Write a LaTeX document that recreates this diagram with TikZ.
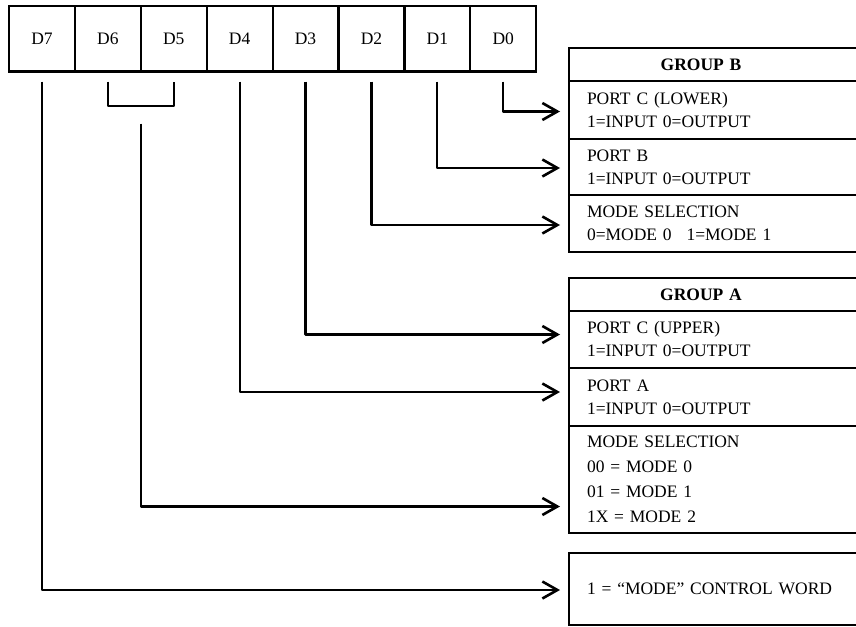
\documentclass[tikz,border=0pt]{standalone}
\usepackage{fontspec}
\setmainfont{Liberation Serif}
\usetikzlibrary{arrows.meta, positioning, calc}

\tikzset{
  bit/.style={rectangle, draw, minimum width=65.9pt, minimum height=65.5pt,
    inner sep=0pt, outer sep=0pt, line width=2.2pt, font=\fontsize{17.5pt}{23pt}\selectfont},
  cell/.style={rectangle, draw, text width=264pt, inner xsep=18pt, inner ysep=0pt,
    outer sep=0pt, align=left, line width=2.2pt, font=\fontsize{17.5pt}{23pt}\selectfont},
  hdr/.style={cell, minimum height=33pt, font=\fontsize{17.5pt}{23pt}\selectfont\bfseries},
  conn/.style={line width=2.2pt, line join=round, shorten <=10pt, shorten >=9pt,
    -{Straight Barb[length=15pt, width=17pt, line width=2.6pt]}},
  line/.style={line width=2.2pt, line join=round}
}

\begin{document}
\begin{tikzpicture}[x=1pt, y=-1pt, node distance=0pt]
  \useasboundingbox (0,0) rectangle (856,626);
  \clip (0,0) rectangle (856,626);

  % Control register
  \node[bit, anchor=north west] (d7) at (9,6) {D7};
  \node[bit, right=of d7] (d6) {D6};
  \node[bit, right=of d6] (d5) {D5};
  \node[bit, right=of d5] (d4) {D4};
  \node[bit, right=of d4] (d3) {D3};
  \node[bit, right=of d3] (d2) {D2};
  \node[bit, right=of d2] (d1) {D1};
  \node[bit, right=of d1] (d0) {D0};

  % Group B
  \node[hdr, anchor=north west] (grpb) at (569,48) {\makebox[228pt]{GROUP B}};
  \node[cell, minimum height=58pt, below=of grpb] (pcl) {PORT C (LOWER)\\1=INPUT 0=OUTPUT};
  \node[cell, minimum height=56pt, below=of pcl] (pb) {PORT B\\1=INPUT 0=OUTPUT};
  \node[cell, minimum height=57pt, below=of pb] (msb) {MODE SELECTION\\0=MODE 0\hspace{9pt} 1=MODE 1};

  % Group A
  \node[hdr, anchor=north west] (grpa) at (569,278) {\makebox[228pt]{GROUP A}};
  \node[cell, minimum height=57pt, below=of grpa] (pcu) {PORT C (UPPER)\\1=INPUT 0=OUTPUT};
  \node[cell, minimum height=58pt, below=of pcu] (pa) {PORT A\\1=INPUT 0=OUTPUT};
  \node[cell, minimum height=107pt, below=of pa,
    font=\fontsize{17.5pt}{25pt}\selectfont] (msa) {MODE SELECTION\\00 = MODE 0\\01 = MODE 1\\1X = MODE 2};

  % Mode flag
  \node[cell, minimum height=72pt, anchor=north west] (ctl) at (569,553) {1 = ``MODE'' CONTROL WORD};

  % Bit connections
  \draw[conn] (d0.south) |- ([yshift=-1.5pt]pcl.west);
  \draw[conn] (d1.south) |- ([yshift=-1pt]pb.west);
  \draw[conn] (d2.south) |- ([yshift=-1.5pt]msb.west);
  \draw[conn] (d3.south) |- ([yshift=5pt]pcu.west);
  \draw[conn] (d4.south) |- ([yshift=5pt]pa.west);
  \draw[line] ([yshift=-10pt]d6.south) -- ++(0,24.5) -| ([yshift=-10pt]d5.south);
  \coordinate (d65) at ($(d6.south)!0.5!(d5.south)$);
  \draw[conn] ([yshift=-42pt]d65) |- ([yshift=-27pt]msa.west);
  \draw[conn] (d7.south) |- ([yshift=-1pt]ctl.west);
\end{tikzpicture}
\end{document}
